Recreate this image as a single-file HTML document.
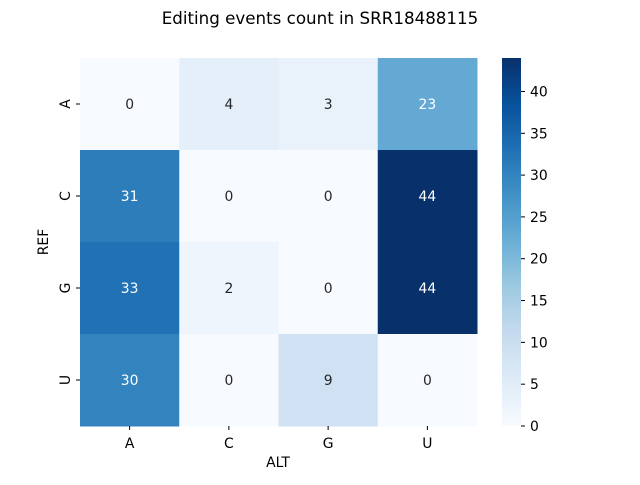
<!DOCTYPE html>
<html><head><meta charset="utf-8"><style>
body{margin:0;background:#fff;}
svg text{font-family:"DejaVu Sans","Liberation Sans",sans-serif;}
</style></head><body>
<svg id="chart" width="640" height="480" xmlns="http://www.w3.org/2000/svg">
<defs>
<linearGradient id="cbgrad" x1="0" y1="1" x2="0" y2="0">
<stop offset="0" stop-color="#f7fbff"/><stop offset="0.125" stop-color="#deebf7"/><stop offset="0.25" stop-color="#c6dbef"/><stop offset="0.375" stop-color="#9ecae1"/><stop offset="0.5" stop-color="#6baed6"/><stop offset="0.625" stop-color="#4292c6"/><stop offset="0.75" stop-color="#2171b5"/><stop offset="0.875" stop-color="#08519c"/><stop offset="1" stop-color="#08306b"/>
</linearGradient>
</defs>
<text x="320" y="24" text-anchor="middle" font-size="16.7" fill="#000">Editing events count in SRR18488115</text>
<g id="cells"></g>
<rect x="502" y="58" width="19" height="368" fill="url(#cbgrad)"/>
<g id="cbticks"></g>
<text x="278" y="467" text-anchor="middle" font-size="13.9">ALT</text>
<text x="48" y="242" text-anchor="middle" font-size="13.9" transform="rotate(-90 48 242)">REF</text>
</svg>
<script>
const refs=["A","C","G","U"];
const alts=["A","C","G","U"];
const counts=[[0,4,3,23],[31,0,0,44],[33,2,0,44],[30,0,9,0]];
const cbTicks=[0,5,10,15,20,25,30,35,40];
const vmin=0,vmax=44;
const X0=80,X1=477,Y0=58,Y1=426;
const cw=(X1-X0)/alts.length,ch=(Y1-Y0)/refs.length;
const stops=["#f7fbff","#deebf7","#c6dbef","#9ecae1","#6baed6","#4292c6","#2171b5","#08519c","#08306b"].map(h=>[1,3,5].map(i=>parseInt(h.substr(i,2),16)));
function color(v){let t=(v-vmin)/(vmax-vmin)*8;let i=Math.min(7,Math.floor(t));let f=t-i;const a=stops[i],b=stops[i+1];return `rgb(${a.map((c,k)=>Math.round(c+(b[k]-c)*f)).join(",")})`;}
function lum(v){const m=color(v).match(/\d+/g).map(n=>{n/=255;return n<=0.03928?n/12.92:Math.pow((n+0.055)/1.055,2.4)});return 0.2126*m[0]+0.7152*m[1]+0.0722*m[2];}
const ns="http://www.w3.org/2000/svg";
const g=document.getElementById("cells"),svg=document.getElementById("chart");
function mk(tag,attrs,parent){const e=document.createElementNS(ns,tag);for(const k in attrs)e.setAttribute(k,attrs[k]);parent.appendChild(e);return e;}
refs.forEach((r,i)=>{alts.forEach((a,j)=>{const v=counts[i][j];
const rect=mk("rect",{x:X0+j*cw,y:Y0+i*ch,width:cw+0.5,height:ch+0.5,fill:color(v)},g);


const t=mk("text",{x:X0+(j+0.5)*cw,y:Y0+(i+0.5)*ch+5,"text-anchor":"middle","font-size":13.9,fill:lum(v)>0.408?"#262626":"#ffffff"},g);
t.textContent=v;

});
const yt=Y0+(i+0.5)*ch;
const tk=mk("line",{x1:X0-4,x2:X0,y1:yt,y2:yt,stroke:"#000"},svg);


const lb=mk("text",{x:70,y:yt,"text-anchor":"middle","font-size":13.9,transform:`rotate(-90 70 ${yt})`},svg);
lb.textContent=r;

});
alts.forEach((a,j)=>{const xt=X0+(j+0.5)*cw;
const tk=mk("line",{x1:xt,x2:xt,y1:Y1,y2:Y1+4,stroke:"#000"},svg);


const lb=mk("text",{x:xt,y:Y1+22,"text-anchor":"middle","font-size":13.9},svg);
lb.textContent=a;

});
const cb=document.getElementById("cbticks");
cbTicks.forEach(v=>{const y=Y1-(v-vmin)/(vmax-vmin)*(Y1-Y0);
const tk=mk("line",{x1:521,x2:525,y1:y,y2:y,stroke:"#000"},cb);


const lb=mk("text",{x:530,y:y+5,"font-size":13.9},cb);
lb.textContent=v;

});
</script>
</body></html>
